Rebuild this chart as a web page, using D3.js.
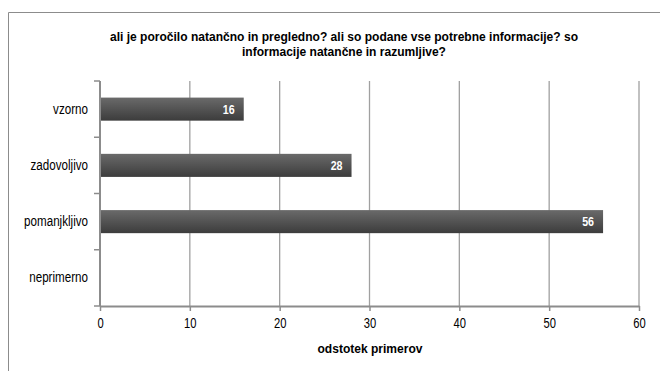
<!DOCTYPE html>
<html>
<head>
<meta charset="utf-8">
<script src="https://cdn.jsdelivr.net/npm/d3@7"></script>
<style>
  html, body { margin: 0; padding: 0; background: #fff; }
  svg { display: block; }
  svg text { font-family: "Liberation Sans", Arial, sans-serif; }
</style>
</head>
<body>
<svg id="chart" width="660" height="371"></svg>
<script>
const categories = ["vzorno", "zadovoljivo", "pomanjkljivo", "neprimerno"];
const values = [16, 28, 56, 0];
const xTicks = [0, 10, 20, 30, 40, 50, 60];
const titleLines = ["ali je poročilo natančno in pregledno? ali so podane vse potrebne informacije? so", "informacije natančne in razumljive?"];
const xTitle = "odstotek primerov";

const svg = d3.select("#chart");

// condense text horizontally to mimic a narrow face
function condense(sel, factor) {
  sel.each(function () {
    const w = this.getComputedTextLength();
    d3.select(this).attr("textLength", w * factor).attr("lengthAdjust", "spacingAndGlyphs");
  });
}

// outer border
svg.append("path")
  .attr("d", "M8.5,380 V12.5 H670")
  .attr("fill", "none").attr("stroke", "#8c8c8c").attr("stroke-width", 1);

const defs = svg.append("defs");
const grad = defs.append("linearGradient").attr("id", "barGrad")
  .attr("x1", 0).attr("y1", 0).attr("x2", 0).attr("y2", 1);
grad.append("stop").attr("offset", "0%").attr("stop-color", "#6a6a6a");
grad.append("stop").attr("offset", "100%").attr("stop-color", "#3c3c3c");

const x = d3.scaleLinear().domain([0, 60]).range([100, 639]);
const y = d3.scaleBand().domain(categories).range([81, 306])
  .paddingInner(0.59).paddingOuter(0.295);

// gridlines
svg.append("g").selectAll("line").data(xTicks.slice(1)).join("line")
  .attr("x1", d => x(d)).attr("x2", d => x(d))
  .attr("y1", 81).attr("y2", 306)
  .attr("stroke", "#a0a0a0").attr("stroke-width", 1.3);

// bars
svg.append("g").selectAll("rect").data(categories).join("rect")
  .attr("x", x(0))
  .attr("y", d => y(d))
  .attr("width", (d, i) => x(values[i]) - x(0))
  .attr("height", y.bandwidth())
  .attr("fill", "url(#barGrad)");

// value labels
svg.append("g").selectAll("text").data(categories.filter((d, i) => values[i] > 0)).join("text")
  .attr("x", d => x(values[categories.indexOf(d)]) - 9)
  .attr("y", d => y(d) + y.bandwidth() / 2)
  .attr("dy", "0.36em")
  .attr("text-anchor", "end")
  .attr("fill", "#fff").attr("font-weight", "bold").attr("font-size", 13)
  .text(d => values[categories.indexOf(d)])
  .call(condense, 0.82);

// x axis
const xAxis = svg.append("g").attr("transform", "translate(0,306)")
  .call(d3.axisBottom(x).tickValues(xTicks).tickSize(5).tickSizeOuter(0).tickFormat(d3.format("d")));
xAxis.select(".domain").attr("stroke", "#8c8c8c").attr("stroke-width", 2);
xAxis.selectAll(".tick line").attr("stroke", "#8c8c8c").attr("stroke-width", 1.5);
xAxis.selectAll(".tick text").attr("font-size", 14).attr("fill", "#000").attr("dy", "1.0em")
  .style("font-family", "'Liberation Sans', Arial, sans-serif")
  .call(condense, 0.8);

// y axis line
const yAxis = svg.append("g").attr("transform", "translate(100,0)")
  .call(d3.axisLeft(y).tickSize(0).tickPadding(12));
yAxis.select(".domain").attr("stroke", "#8c8c8c").attr("stroke-width", 2)
  .attr("d", "M0,81V306");
yAxis.selectAll(".tick text").attr("font-size", 14).attr("fill", "#000")
  .style("font-family", "'Liberation Sans', Arial, sans-serif")
  .call(condense, 0.83);

// y tick marks at band boundaries
const boundaries = [81].concat(categories.map(c => y(c) - y.step() * y.paddingInner() / 2 + y.step()));
svg.append("g").selectAll("line").data(boundaries).join("line")
  .attr("x1", 94).attr("x2", 100)
  .attr("y1", d => d).attr("y2", d => d)
  .attr("stroke", "#8c8c8c").attr("stroke-width", 1.5);

// title
const titleTexts = svg.append("g").selectAll("text").data(titleLines).join("text")
  .attr("x", 344).attr("y", (d, i) => 41 + i * 15)
  .attr("text-anchor", "middle")
  .attr("font-weight", "bold").attr("font-size", 13.5).attr("fill", "#000")
  .text(d => d);
const titleFactor = 468 / titleTexts.nodes()[0].getComputedTextLength();
titleTexts.call(condense, titleFactor);

// x axis title
svg.append("text")
  .attr("x", 370).attr("y", 353)
  .attr("text-anchor", "middle")
  .attr("font-weight", "bold").attr("font-size", 13.5).attr("fill", "#000")
  .text(xTitle)
  .call(condense, titleFactor);
</script>
</body>
</html>
